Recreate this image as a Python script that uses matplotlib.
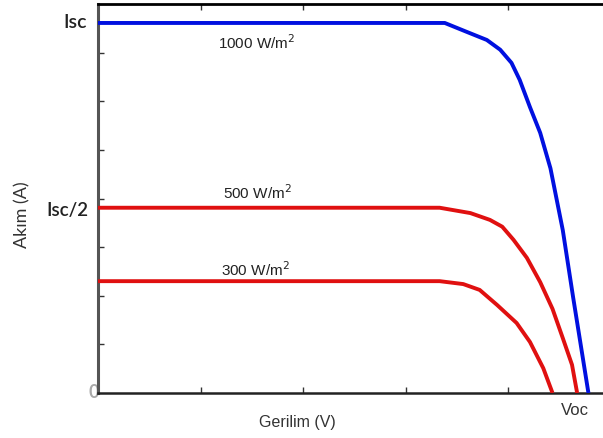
import matplotlib
matplotlib.use("Agg")
import matplotlib.pyplot as plt

# Data
v_1000 = [0.0, 3.38, 3.59, 3.79, 3.92, 4.03, 4.11, 4.21, 4.31, 4.41, 4.53, 4.63, 4.78]
i_1000 = [7.61, 7.61, 7.43, 7.26, 7.06, 6.79, 6.44, 5.88, 5.35, 4.62, 3.35, 1.98, 0.0]
v_500 = [0.0, 3.33, 3.63, 3.82, 3.94, 4.05, 4.18, 4.31, 4.43, 4.53, 4.62, 4.67]
i_500 = [3.81, 3.81, 3.70, 3.56, 3.42, 3.15, 2.78, 2.28, 1.73, 1.13, 0.58, 0.0]
v_300 = [0.0, 3.33, 3.56, 3.72, 3.89, 4.08, 4.21, 4.34, 4.43]
i_300 = [2.30, 2.30, 2.24, 2.12, 1.81, 1.44, 1.05, 0.51, 0.0]
curve_labels = ["1000 W/m$^2$", "500 W/m$^2$", "300 W/m$^2$"]
y_labels = ["Isc", "Isc/2", "0"]

fig = plt.figure(figsize=(6.03, 4.38), dpi=100)
ax = fig.add_axes([98/603, 1-393/438, 1-98/603, (393-4)/438])
ax.set_xlim(0, 505/102.6)
ax.set_ylim(0, 8)

kw = dict(lw=2.8, solid_joinstyle="round", solid_capstyle="butt", zorder=3)
ax.plot(v_1000, i_1000, color="#0010e0", **kw)
ax.plot(v_500, i_500, color="#e01010", **kw)
ax.plot(v_300, i_300, color="#e01010", **kw)

ax.set_xticks([1, 2, 3, 4])
ax.set_yticks([1, 2, 3, 4, 5, 6, 7])
ax.set_xticklabels([])
ax.set_yticklabels([])
ax.tick_params(direction="in", length=4, width=1, top=True, right=False, colors="#333333")
ax.spines["right"].set_visible(False)
ax.spines["top"].set_color("black")
ax.spines["top"].set_linewidth(2)
ax.spines["bottom"].set_color("#222222")
ax.spines["bottom"].set_linewidth(1.8)
ax.spines["left"].set_color("#555555")
ax.spines["left"].set_linewidth(2.2)

isc = i_1000[0]
ax.text(-0.11, isc, y_labels[0], ha="right", va="center", fontsize=14, family="Lato",
        fontweight="semibold", color="#222222")
ax.text(-0.09, i_500[0] - 0.05, y_labels[1], ha="right", va="center", fontsize=13.5, family="Lato",
        fontweight="semibold", color="#222222")
ax.text(-0.04, 0.0, y_labels[2], ha="center", va="center", fontsize=13, family="Lato",
        fontweight="bold", color="#aaaaaa", zorder=0)

ax.text(1.55, isc - 0.40, curve_labels[0], ha="center", va="center", fontsize=11,
        family="Liberation Sans", color="#222222")
ax.text(1.55, i_500[0] + 0.32, curve_labels[1], ha="center", va="center", fontsize=11,
        family="Liberation Sans", color="#222222")
ax.text(1.53, i_300[0] + 0.23, curve_labels[2], ha="center", va="center", fontsize=11,
        family="Liberation Sans", color="#222222")

ax.text(4.65, -0.35, "Voc", ha="center", va="center", fontsize=12,
        family="Liberation Sans", color="#333333")
fig.text(297/603, 1-423/438, "Gerilim (V)", ha="center", va="center", fontsize=11.5,
         family="Liberation Sans", color="#333333")
fig.text(22/603, 1-215/438, "Akım (A)", ha="center", va="center", rotation=90, fontsize=13,
         family="Lato", color="#333333")

fig.savefig("out.png", dpi=100)
